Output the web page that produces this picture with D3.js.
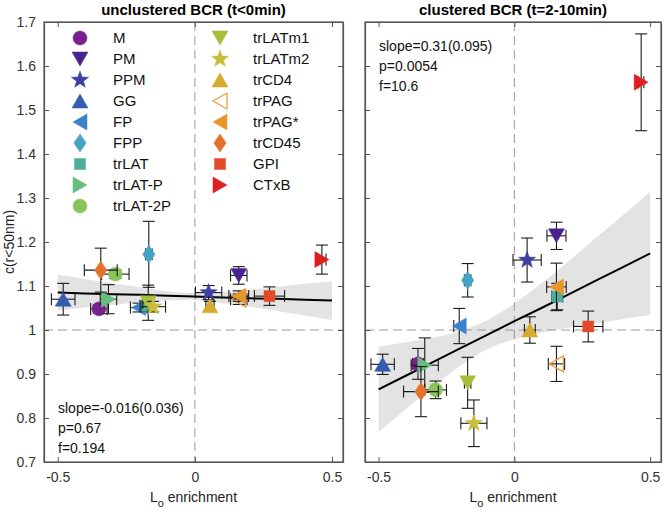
<!DOCTYPE html>
<html><head><meta charset="utf-8">
<script src="https://cdn.jsdelivr.net/npm/d3@7"></script>
<style>
body{margin:0;background:#fff}
svg{display:block}
text{font-family:"Liberation Sans",Arial,Helvetica,sans-serif}
</style>
</head><body>
<svg id="chart" width="665" height="513"></svg>
<script>
// ---------- DATA ----------
const names  = ["M","PM","PPM","GG","FP","FPP","trLAT","trLAT-P","trLAT-2P",
                "trLATm1","trLATm2","trCD4","trPAG","trPAG*","trCD45","GPI","CTxB"];
const colors = ["#7a1f8e","#4a2290","#3f3fa3","#335cb0","#3a83cc","#45a3c4","#4caf9c","#66bd7e","#8cc25a",
                "#a6be3a","#c9be3c","#d6ac2e","#e8a040","#e8972f","#e5722a","#e4492a","#dd1f1f"];
const shapes = ["circle","triDown","star","triUp","triLeft","diamond","square","triRight","circle",
                "triDown","star","triUp","triLeft","triLeft","diamond","square","triRight"];
const hollow = [false,false,false,false,false,false,false,false,false,
                false,false,false,true,false,false,false,false];

// unclustered BCR (t<0min)
const xUnclustered    = [-0.35, 0.16, 0.05,-0.48,-0.205,-0.168,-0.18,-0.315,-0.29,-0.17,-0.152,0.055,0.16,0.16,-0.343,0.272,0.463];
const xErrUnclustered = [ 0.03, 0.03,0.048,0.043, 0.03, 0.012, 0.02, 0.03, 0.05, 0.02, 0.045,0.015,0.03,0.036,0.06,0.055,0.015];
const yUnclustered    = [1.048,1.124,1.085,1.07,1.051,1.172,1.055,1.07,1.127,1.062,1.053,1.055,1.07,1.077,1.136,1.077,1.16];
const yErrUnclustered = [0.01,0.02,0.016,0.036,0.01,0.075,0.012,0.033,0.01,0.04,0.012,0.01,0.012,0.012,0.05,0.021,0.033];

// clustered BCR (t=2-10min)
const xClustered    = [-0.355,0.155,0.047,-0.485,-0.203,-0.172,0.158,-0.33,-0.29,-0.172,-0.149,0.057,0.155,0.155,-0.344,0.272,0.467];
const xErrClustered = [0.02,0.035,0.052,0.043,0.02,0.012,0.02,0.05,0.04,0.012,0.048,0.02,0.03,0.036,0.064,0.054,0.01];
const yClustered    = [0.923,1.214,1.159,0.922,1.009,1.113,1.076,0.92,0.864,0.88,0.788,1.0,0.923,1.098,0.86,1.008,1.563];
const yErrClustered = [0.035,0.031,0.05,0.023,0.04,0.038,0.03,0.062,0.02,0.058,0.053,0.03,0.04,0.054,0.057,0.035,0.11];

// regression fits and confidence bands
const fitX = [-0.5,-0.4,-0.3,-0.2,-0.1,0,0.1,0.2,0.3,0.4,0.5];
const fitUnclustered    = [1.085,1.083,1.081,1.080,1.078,1.076,1.074,1.072,1.071,1.069,1.067];
const bandHiUnclustered = [1.126,1.116,1.106,1.097,1.088,1.084,1.087,1.092,1.098,1.105,1.111];
const bandLoUnclustered = [1.044,1.051,1.057,1.063,1.067,1.068,1.061,1.053,1.043,1.033,1.023];
const fitClustered      = [0.865,0.896,0.927,0.958,0.989,1.020,1.050,1.081,1.112,1.143,1.174];
const bandHiClustered   = [0.962,0.972,0.983,0.998,1.022,1.060,1.106,1.157,1.209,1.261,1.314];
const bandLoClustered   = [0.768,0.820,0.871,0.918,0.956,0.979,0.994,1.005,1.015,1.025,1.034];

const statsUnclustered = ["slope=-0.016(0.036)","p=0.67","f=0.194"];
const statsClustered   = ["slope=0.31(0.095)","p=0.0054","f=10.6"];
const titles = ["unclustered BCR (t<0min)","clustered BCR (t=2-10min)"];

const yTickValues = [0.7,0.8,0.9,1.0,1.1,1.2,1.3,1.4,1.5,1.6,1.7];
const yTickLabels = ["0.7","0.8","0.9","1","1.1","1.2","1.3","1.4","1.5","1.6","1.7"];
const xTickValues = [-0.5,0,0.5];
const xTickLabels = ["-0.5","0","0.5"];

// ---------- DRAW ----------
const svg = d3.select("#chart");
const axisColor = "#555";
const plotTop = 22, plotBottom = 462;
const y = d3.scaleLinear().domain([0.7,1.7]).range([plotBottom, plotTop]);

function markerPath(shape){
  switch(shape){
    case "circle": return d3.symbol(d3.symbolCircle, Math.PI*7*7)();
    case "square": return d3.symbol(d3.symbolSquare, 11*11)();
    case "diamond": return "M0,-9L6.2,0L0,9L-6.2,0Z";
    case "star": {
      const R=9, r=3.7; let p=[];
      for(let k=0;k<10;k++){const a=-Math.PI/2+k*Math.PI/5, rr=k%2?r:R; p.push([rr*Math.cos(a),rr*Math.sin(a)]);}
      return "M"+p.map(q=>q[0].toFixed(2)+","+q[1].toFixed(2)).join("L")+"Z";
    }
    default: return "M0,-7L8,7L-8,7Z";
  }
}
function markerRot(shape){
  return {triUp:0,triDown:180,triLeft:-90,triRight:90}[shape] || 0;
}

const panels = [
  {x0:44, x1:343, xs:xUnclustered, xe:xErrUnclustered, ys:yUnclustered, ye:yErrUnclustered,
   fit:fitUnclustered, hi:bandHiUnclustered, lo:bandLoUnclustered, stats:statsUnclustered, statsY:408, title:titles[0], yLabels:true, legend:true},
  {x0:365, x1:661, xs:xClustered, xe:xErrClustered, ys:yClustered, ye:yErrClustered,
   fit:fitClustered, hi:bandHiClustered, lo:bandLoClustered, stats:statsClustered, statsY:46, title:titles[1], yLabels:false, legend:false}
];

panels.forEach((P)=>{
  const x = d3.scaleLinear().domain([-0.55,0.54]).range([P.x0,P.x1]);
  const g = svg.append("g");

  // band
  const area = d3.area().x((d,i)=>x(fitX[i])).y0((d,i)=>y(P.lo[i])).y1((d,i)=>y(P.hi[i])).curve(d3.curveMonotoneX);
  g.append("path").datum(fitX).attr("d",area).attr("fill","#e3e3e3");

  // dashed reference lines
  g.append("line").attr("x1",x(0)).attr("x2",x(0)).attr("y1",plotTop).attr("y2",plotBottom)
    .attr("stroke","#9a9a9a").attr("stroke-width",1).attr("stroke-dasharray","9,5");
  g.append("line").attr("x1",P.x0).attr("x2",P.x1).attr("y1",y(1)).attr("y2",y(1))
    .attr("stroke","#9a9a9a").attr("stroke-width",1).attr("stroke-dasharray","9,5");

  // fit line
  const line = d3.line().x((d,i)=>x(fitX[i])).y((d,i)=>y(P.fit[i]));
  g.append("path").datum(fitX).attr("d",line).attr("fill","none").attr("stroke","#000").attr("stroke-width",2);

  // axes
  const ax = (a)=>a.tickSizeOuter(0);
  const gl = g.append("g").attr("transform",`translate(${P.x0},0)`)
    .call(ax(d3.axisLeft(y).tickValues(yTickValues).tickSizeInner(-5).tickPadding(8)
      .tickFormat((d,i)=>P.yLabels?yTickLabels[i]:"")));
  const gr = g.append("g").attr("transform",`translate(${P.x1},0)`)
    .call(ax(d3.axisRight(y).tickValues(yTickValues).tickSizeInner(-5).tickFormat("")));
  const gb = g.append("g").attr("transform",`translate(0,${plotBottom})`)
    .call(ax(d3.axisBottom(x).tickValues(xTickValues).tickSizeInner(-5).tickPadding(10)
      .tickFormat((d,i)=>xTickLabels[i])));
  const gt = g.append("g").attr("transform",`translate(0,${plotTop})`)
    .call(ax(d3.axisTop(x).tickValues(xTickValues).tickSizeInner(-5).tickFormat("")));
  [gl,gr,gb,gt].forEach(a=>{
    a.select(".domain").attr("stroke",axisColor).attr("stroke-width",1.2);
    a.selectAll(".tick line").attr("stroke",axisColor).attr("stroke-width",1);
    a.selectAll(".tick text").attr("fill","#333").attr("font-size",14)
      .attr("font-family",'"Liberation Sans",Arial,sans-serif');
  });
  g.append("rect").attr("x",P.x0).attr("y",plotTop).attr("width",P.x1-P.x0).attr("height",plotBottom-plotTop)
    .attr("fill","none").attr("stroke",axisColor).attr("stroke-width",1.2);

  // error bars + markers
  const cap = 6;
  names.forEach((n,i)=>{
    const cx = x(P.xs[i]), cy = y(P.ys[i]);
    const yl = y(P.ys[i]-P.ye[i]), yh = y(P.ys[i]+P.ye[i]);
    const xl = x(P.xs[i]-P.xe[i]), xh = x(P.xs[i]+P.xe[i]);
    const e = g.append("g").attr("stroke","#1a1a1a").attr("stroke-width",1.1).attr("fill","none");
    e.append("line").attr("x1",cx).attr("x2",cx).attr("y1",yl).attr("y2",yh);
    e.append("line").attr("x1",cx-cap).attr("x2",cx+cap).attr("y1",yl).attr("y2",yl);
    e.append("line").attr("x1",cx-cap).attr("x2",cx+cap).attr("y1",yh).attr("y2",yh);
    e.append("line").attr("x1",xl).attr("x2",xh).attr("y1",cy).attr("y2",cy);
    e.append("line").attr("x1",xl).attr("x2",xl).attr("y1",cy-cap).attr("y2",cy+cap);
    e.append("line").attr("x1",xh).attr("x2",xh).attr("y1",cy-cap).attr("y2",cy+cap);
    g.append("path").attr("d",markerPath(shapes[i]))
      .attr("transform",`translate(${cx},${cy}) rotate(${markerRot(shapes[i])})`)
      .attr("fill",hollow[i]?"none":colors[i])
      .attr("stroke",colors[i]).attr("stroke-width",hollow[i]?1.3:0.5);
  });

  // stats text
  P.stats.forEach((s,k)=>{
    g.append("text").attr("x",P.x0+14).attr("y",P.statsY+k*20).attr("dy","0.35em")
      .attr("font-size",14).attr("fill","#111").text(s);
  });

  // title
  svg.append("text").attr("x",(P.x0+P.x1)/2).attr("y",15).attr("text-anchor","middle")
    .attr("font-size",15).attr("font-weight","bold").attr("fill","#000").text(P.title);

  // x label with subscript
  const xl = svg.append("text").attr("x",(P.x0+P.x1)/2).attr("y",502).attr("text-anchor","middle")
    .attr("font-size",14).attr("fill","#222");
  xl.append("tspan").text("L");
  xl.append("tspan").attr("font-size",11).attr("dy",5).text("o");
  xl.append("tspan").attr("dy",-5).text(" enrichment");

  // legend
  if(P.legend){
    names.forEach((n,i)=>{
      const col = i<9?0:1, row = i<9?i:i-9;
      const mx = col?220:80, my = 38+row*21;
      svg.append("path").attr("d",markerPath(shapes[i]))
        .attr("transform",`translate(${mx},${my}) rotate(${markerRot(shapes[i])})`)
        .attr("fill",hollow[i]?"none":colors[i])
        .attr("stroke",colors[i]).attr("stroke-width",hollow[i]?1.3:0.5);
      svg.append("text").attr("x",mx+33).attr("y",my).attr("dy","0.36em")
        .attr("font-size",15).attr("fill","#111").text(n);
    });
  }
});

// y label
svg.append("text").attr("transform","translate(14,242) rotate(-90)").attr("text-anchor","middle")
  .attr("font-size",14).attr("fill","#222").text("c(r<50nm)");
</script>
</body></html>
